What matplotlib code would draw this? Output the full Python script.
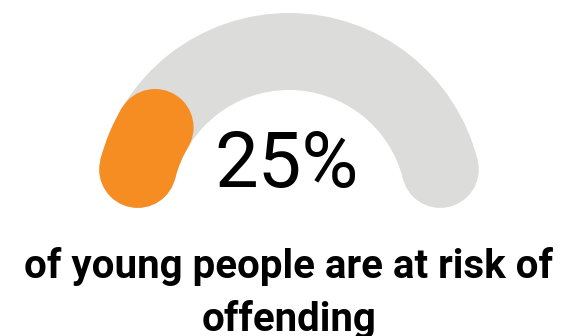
import numpy as np
import matplotlib
matplotlib.use("Agg")
import matplotlib.pyplot as plt
from matplotlib.patches import Wedge, Circle

value = 25
max_value = 100
label = "25%"
caption = ["of young people are at risk of", "offending"]

track_color = "#dcdcdb"
fill_color = "#f68d23"

fig = plt.figure(figsize=(5.66, 3.36), dpi=100)
ax = fig.add_axes([0, 0, 1, 1])
ax.set_xlim(0, 566)
ax.set_ylim(0, 336)
ax.set_aspect("equal")
ax.axis("off")

# gauge geometry (pixels)
cx, cy = 289, 336 - 207.5
r_mid = 156
half_w = 38.5
cap = np.degrees(half_w / r_mid)  # angle eaten by the round cap


def rounded_arc(start, end, color):
    # start > end, angles in degrees, caps inside the span
    a1 = start - cap
    a2 = end + cap
    ax.add_patch(Wedge((cx, cy), r_mid + half_w, a2, a1, width=2 * half_w,
                       color=color, lw=0))
    for a in (a1, a2):
        t = np.radians(a)
        ax.add_patch(Circle((cx + r_mid * np.cos(t), cy + r_mid * np.sin(t)),
                            half_w, color=color, lw=0))


rounded_arc(180, 0, track_color)
rounded_arc(180, 180 - 180 * value / max_value, fill_color)

ax.text(287, 336 - 187, label, ha="center", va="baseline",
        fontsize=56, family="Roboto", color="black")

ax.text(289, 336 - 278, caption[0], ha="center", va="baseline",
        fontsize=29, family="Roboto", fontweight="bold", color="black")
ax.text(289, 336 - 331, caption[1], ha="center", va="baseline",
        fontsize=29, family="Roboto", fontweight="bold", color="black")

fig.savefig("out.png", dpi=100)
